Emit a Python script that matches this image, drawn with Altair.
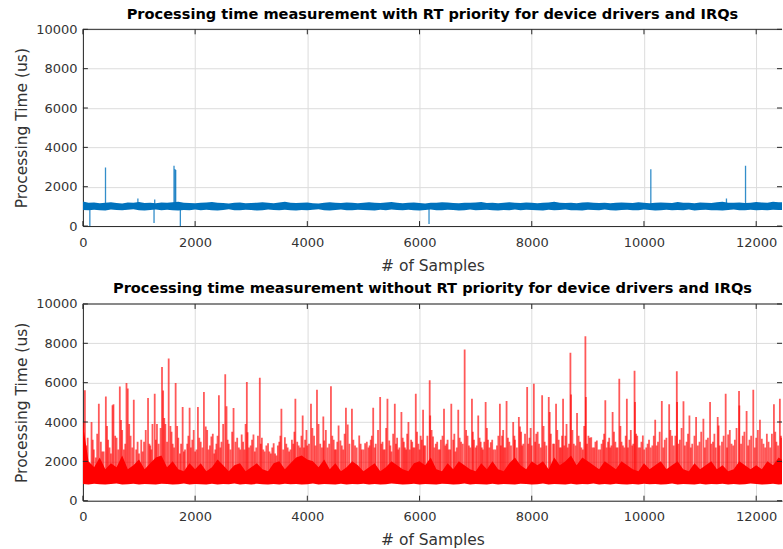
import altair as alt
import pandas as pd

X_MAX = 12460
STEP = 100
x_tick_values = [0, 2000, 4000, 6000, 8000, 10000, 12000]
y_tick_values = [0, 2000, 4000, 6000, 8000, 10000]

top_title = "Processing time measurement with RT priority for device drivers and IRQs"
bottom_title = "Processing time measurement without RT priority for device drivers and IRQs"

# ---- top panel (with RT priority): dense band every 100 samples ----
top_hi = [1250, 1180, 1200, 1160, 1190, 1210, 1170, 1150, 1200, 1180,
          1220, 1170, 1190, 1160, 1200, 1180, 1210, 1230, 1190, 1170,
          1160, 1180, 1200, 1220, 1190, 1170, 1150, 1180, 1200, 1160,
          1170, 1190, 1210, 1180, 1160, 1200, 1230, 1190, 1170, 1180,
          1200, 1160, 1150, 1180, 1210, 1190, 1170, 1200, 1180, 1160,
          1190, 1210, 1180, 1170, 1200, 1220, 1190, 1160, 1180, 1200,
          1170, 1150, 1190, 1180, 1210, 1200, 1170, 1160, 1190, 1180,
          1200, 1220, 1170, 1180, 1160, 1190, 1210, 1180, 1170, 1200,
          1190, 1160, 1180, 1200, 1230, 1190, 1170, 1180, 1160, 1200,
          1210, 1180, 1170, 1190, 1160, 1180, 1200, 1190, 1170, 1210,
          1180, 1160, 1190, 1200, 1180, 1170, 1220, 1190, 1180, 1160,
          1200, 1190, 1170, 1210, 1230, 1180, 1190, 1200, 1170, 1180,
          1220, 1200, 1190, 1240, 1210, 1200]
top_lo = [820, 800, 830, 810, 790, 840, 820, 800, 830, 850,
          810, 790, 820, 840, 800, 830, 810, 790, 820, 800,
          840, 810, 830, 800, 790, 820, 850, 810, 800, 830,
          820, 790, 810, 840, 820, 800, 830, 810, 790, 820,
          800, 830, 850, 810, 790, 820, 840, 800, 810, 830,
          820, 800, 790, 830, 810, 840, 820, 800, 830, 810,
          790, 820, 840, 810, 800, 830, 820, 790, 810, 840,
          800, 820, 830, 810, 790, 820, 800, 840, 810, 830,
          820, 800, 790, 830, 810, 820, 840, 800, 810, 790,
          830, 820, 800, 840, 810, 790, 820, 830, 800, 810,
          840, 820, 790, 810, 830, 800, 820, 810, 840, 790,
          820, 830, 800, 810, 790, 820, 840, 810, 800, 830,
          810, 820, 800, 830, 820, 810]
top_spike_samples = [124, 403, 980, 1268, 1280, 1624, 1640, 1654, 1737,
                     6169, 10122, 11470, 11810]
top_spike_values = [0, 2980, 1400, 150, 1350, 3060, 2900, 2850, 0,
                    100, 2890, 1400, 3060]
TOP_BASE = 1000

# ---- bottom panel (without RT priority) ----
bot_hi = [3900, 2000, 1700, 2200, 1600, 1900, 1700, 2300, 1600, 1800, 2100,
          1600, 1900, 2200, 2300, 1700, 2000, 1600, 1500, 1900, 1600,
          1900, 1500, 1700, 2100, 1800, 1500, 1800, 1900, 1500, 1700,
          1900, 1600, 1500, 1900, 2000, 1600, 1900, 2200, 2300, 2100,
          2000, 1700, 2100, 1600, 1900, 1500, 1700, 2000, 1800, 1500,
          1700, 1900, 1500, 1700, 2000, 1800, 1600, 1500, 1900, 2000,
          1800, 2200, 1600, 1500, 1900, 1600, 2000, 1800, 1600, 1500,
          1900, 1600, 2000, 1600, 1500, 1900, 2200, 1800, 1600, 2000,
          1800, 2000, 1600, 2200, 1800, 2000, 2300, 1800, 2200, 2000,
          1800, 1600, 2000, 1800, 1600, 2000, 1800, 1600, 1500, 1900,
          1600, 1800, 2000, 1600, 1800, 2000, 1600, 1500, 1900, 1600,
          1800, 2000, 1600, 1800, 1500, 1600, 2000, 1800, 1600, 1800,
          1600, 2000, 1800, 2200, 2000]
bot_lo = [850, 830, 860, 840, 820, 850, 870, 830, 840, 860,
          820, 850, 840, 830, 860, 850, 820, 840, 870, 830,
          850, 840, 820, 860, 830, 850, 840, 870, 820, 850,
          830, 860, 840, 820, 850, 830, 860, 840, 850, 820,
          840, 870, 830, 850, 840, 820, 860, 830, 850, 840,
          860, 820, 850, 830, 840, 870, 850, 820, 840, 860,
          830, 850, 840, 820, 860, 850, 830, 840, 870, 820,
          850, 840, 830, 860, 820, 850, 840, 830, 860, 850,
          820, 840, 870, 830, 850, 840, 820, 860, 830, 850,
          840, 870, 820, 850, 830, 860, 840, 820, 850, 830,
          860, 840, 850, 820, 840, 870, 830, 850, 840, 820,
          860, 830, 850, 840, 860, 820, 850, 830, 840, 870,
          850, 820, 840, 860, 830, 850]
bot_spike_samples = [
    10, 36, 60, 154, 175, 230, 284, 320, 370, 409, 450, 500, 528, 545, 600,
    658, 700, 730, 777, 800, 850, 907, 950, 1000, 1040, 1090, 1161, 1200,
    1240, 1280, 1320, 1350, 1410, 1430, 1470, 1529, 1560, 1600, 1653, 1700,
    1730, 1778, 1820, 1860, 1902, 1950, 2000, 2050,
    2100, 2157, 2190, 2240, 2290, 2340, 2380, 2424, 2470, 2537, 2560, 2600,
    2685, 2720, 2780, 2830, 2880, 2922, 2935, 2990, 3040, 3090, 3153, 3190,
    3240, 3300, 3350, 3400, 3450, 3500, 3538, 3600, 3650, 3700, 3750, 3787,
    3820, 3870, 3917, 3960, 4000, 4065,
    4120, 4172, 4230, 4285, 4300, 4360, 4421, 4470, 4510, 4557, 4590, 4640,
    4688, 4720, 4795, 4850, 4925, 4970, 5030, 5090, 5130, 5174, 5220, 5298,
    5340, 5380, 5428, 5460, 5500, 5559, 5600, 5640, 5677, 5720, 5760, 5802,
    5850, 5890, 5933, 5980, 6020, 6063, 6100,
    6181, 6190, 6240, 6290, 6340, 6380, 6436, 6480, 6520, 6566, 6600, 6640,
    6690, 6740, 6804, 6830, 6880, 6934, 6970, 7000, 7046, 7090, 7130, 7178,
    7220, 7270, 7320, 7380, 7432, 7470, 7510, 7551, 7600, 7669, 7700, 7770,
    7790, 7850, 7918, 7960, 8000, 8037, 8080, 8130, 8185,
    8230, 8303, 8320, 8380, 8433, 8480, 8520, 8558, 8600, 8640, 8689, 8700,
    8750, 8807, 8860, 8910, 8956, 8965, 9010, 9060, 9110, 9160, 9220, 9270,
    9311, 9360, 9400, 9441, 9490, 9530, 9560, 9600, 9650, 9695, 9740, 9790,
    9832, 9840, 9880, 9930, 9980, 10040, 10090, 10150, 10200,
    10250, 10318, 10370, 10449, 10500, 10585, 10590, 10640, 10704, 10760,
    10810, 10860, 10929, 10990, 11059, 11110, 11178, 11230, 11280, 11314,
    11330, 11390, 11456, 11500, 11560, 11620, 11694, 11700, 11760, 11829,
    11880, 11948, 12000, 12067, 12100, 12160, 12220, 12280, 12316, 12360,
    12422, 12450]
bot_spike_values = [
    4000, 5610, 2800, 4000, 3100, 2200, 4930, 3000, 2500, 5300, 3100, 2400,
    4850, 4900, 3200, 5810, 3600, 2600, 5980, 5700, 3300, 5130, 2600, 2400,
    3100, 3000, 5220, 2800, 3900, 5440, 3900, 2900, 6800, 5600, 3900, 7225,
    3800, 2900, 5980, 3200, 2400, 4760, 2600, 2900, 4730, 3100, 2500, 4760,
    3000, 5525, 3770, 2600, 3260, 2400, 2900, 5355, 3000, 6430, 4800, 2900,
    4710, 3000, 2700, 3370, 2600, 6035, 3485, 2800, 3370, 2700, 6256, 3200,
    2500, 2925, 2400, 2925, 2300, 3000, 4675, 3230, 2700, 2600, 2900, 5185,
    3000, 2700, 4335, 3100, 2800, 4930,
    3300, 5645, 2900, 4280, 3060, 2700, 5815, 3100, 2600, 3825, 3060, 2600,
    4730, 3875, 4675, 2800, 3315, 2600, 2925, 2700, 3100, 4730, 2900, 5270,
    3000, 2600, 5185, 3060, 2500, 4930, 3200, 2700, 4505, 3000, 2600, 4000,
    3100, 2700, 5440, 2900, 3300, 4620, 2800,
    6120, 4335, 3265, 2890, 2600, 3100, 4675, 2900, 2600, 4930, 3100, 2500,
    4620, 3000, 7685, 3600, 2800, 5185, 3100, 2700, 4335, 3000, 2600, 5015,
    3100, 2975, 2600, 2800, 4930, 3300, 2700, 5065, 3000, 4000, 3100, 4250,
    3775, 2900, 5780, 3200, 2800, 5950, 3400, 2900, 5355,
    3000, 5270, 4505, 2900, 4930, 3100, 2700, 5185, 3300, 2700, 7515, 5400,
    2900, 4455, 3000, 2600, 8365, 5270, 3300, 3230, 2700, 3060, 2600, 3100,
    5100, 3000, 2700, 4505, 3000, 2700, 6205, 3000, 2700, 5185, 3100, 2800,
    6600, 5015, 3300, 2700, 3315, 2700, 3095, 2800, 4115,
    3000, 5065, 3100, 4900, 3300, 6580, 5015, 3100, 5050, 3000,
    4335, 2900, 4250, 3000, 4165, 3100, 5015, 3000, 2700, 4250,
    3825, 3000, 5440, 3365, 2900, 3100, 5575, 4845, 3300, 4555,
    3100, 5645, 3200, 4115, 3145, 2700, 3000, 3400, 4900, 3000,
    5185, 3200]
# medium spikes between the tall ones: (sample, value)
bot_mid_spikes = [
    (85, 3200), (195, 2600), (255, 3400), (345, 2500), (430, 3800), (475, 2700),
    (575, 3300), (630, 2600), (680, 4100), (755, 2900), (825, 3900), (880, 2700),
    (975, 3000), (1065, 2500), (1120, 3600), (1185, 2900), (1220, 2600),
    (1300, 3100), (1385, 3700), (1450, 4200), (1500, 3000), (1580, 3500),
    (1625, 2700), (1680, 3800), (1750, 2900), (1800, 2500), (1880, 3300),
    (1925, 2700), (1975, 3600), (2025, 2600), (2075, 3200), (2130, 2700),
    (2215, 3600), (2265, 2800), (2315, 3400), (2360, 2600), (2400, 3300),
    (2450, 2700), (2500, 3900), (2580, 3100), (2630, 2600), (2660, 3500),
    (2750, 3200), (2805, 2600), (2855, 3000), (2900, 3900), (2960, 2700),
    (3015, 3100), (3065, 2500), (3120, 3300), (3170, 2900), (3215, 2600),
    (3270, 2800), (3325, 2500), (3375, 2700), (3425, 2400), (3475, 2800),
    (3520, 3300), (3570, 2600), (3625, 2900), (3675, 2500), (3725, 3100),
    (3770, 3500), (3845, 2800), (3895, 3300), (3940, 2700), (3985, 3600),
    (4030, 2900), (4090, 3700), (4145, 2800), (4200, 3900), (4260, 2700),
    (4330, 3600), (4390, 2900), (4445, 3300), (4490, 2600), (4535, 3000),
    (4615, 2800), (4665, 3400), (4750, 2900), (4820, 3100), (4880, 2700),
    (4950, 2900), (5000, 2600), (5060, 3000), (5110, 2800), (5150, 3300),
    (5200, 2700), (5260, 3600), (5320, 2900), (5360, 2600), (5405, 3700),
    (5480, 2800), (5530, 3400), (5580, 2900), (5620, 2600), (5700, 3200),
    (5740, 2700), (5780, 3400), (5825, 2600), (5870, 3000), (5910, 2700),
    (5955, 3500), (6000, 2600), (6040, 3100), (6080, 2800), (6140, 3300),
    (6215, 3600), (6265, 2700), (6315, 3000), (6360, 2600), (6410, 3300),
    (6460, 2800), (6500, 3100), (6545, 2600), (6620, 3400), (6665, 2700),
    (6715, 3200), (6770, 2900), (6855, 3300), (6905, 2700), (6950, 3500),
    (7020, 2800), (7070, 3200), (7110, 2700), (7155, 3000), (7200, 3700),
    (7245, 2700), (7295, 3100), (7350, 2600), (7405, 3300), (7450, 2800),
    (7490, 3600), (7530, 2700), (7575, 3200), (7630, 2800), (7690, 3300),
    (7735, 2700), (7810, 3500), (7830, 2800), (7880, 3400), (7940, 2900),
    (7980, 3700), (8060, 3000), (8105, 3500), (8160, 2700), (8210, 3800),
    (8260, 2800), (8340, 3400), (8400, 2900), (8455, 3600), (8500, 2700),
    (8540, 3300), (8580, 2800), (8620, 3900), (8665, 2900), (8725, 3600),
    (8780, 2800), (8835, 3300), (8885, 2700), (8935, 3800), (8985, 2900),
    (9035, 3200), (9085, 2700), (9135, 3000), (9190, 2600), (9245, 2900),
    (9290, 3400), (9335, 2700), (9380, 3200), (9420, 2800), (9465, 3500),
    (9510, 2700), (9580, 3800), (9625, 2800), (9675, 3300), (9715, 2700),
    (9765, 3600), (9810, 2900), (9860, 3400), (9905, 2700), (9955, 3000),
    (10005, 2600), (10065, 2900), (10120, 2700), (10175, 3300), (10225, 2800),
    (10280, 3500), (10345, 2700), (10400, 3200), (10470, 3600), (10530, 2800),
    (10560, 3300), (10615, 2900), (10670, 3700), (10730, 2800), (10785, 3400),
    (10835, 2700), (10900, 3300), (10960, 2800), (11020, 3500), (11085, 2700),
    (11140, 3200), (11200, 2900), (11255, 3400), (11350, 2800), (11420, 3300),
    (11480, 2700), (11530, 3600), (11590, 2800), (11650, 3700), (11730, 2900),
    (11790, 3500), (11855, 2800), (11910, 3300), (11975, 2700), (12030, 3600),
    (12130, 2900), (12190, 3400), (12250, 2700), (12340, 3500), (12390, 2800),
    (12440, 3300)]
BOT_BASE = 900

W, H = 700, 197
FONT = "DejaVu Sans"
AXIS_COLOR = "#262626"
TEXT_COLOR = "#333333"

xscale = alt.Scale(domain=[0, X_MAX], nice=False, zero=False)
yscale = alt.Scale(domain=[0, 10000], nice=False)
x_axis = alt.Axis(values=x_tick_values, ticks=False, grid=True, format="d",
                  labelFlush=False, labelOverlap=False, labelPadding=10, titlePadding=9,
                  title="# of Samples")
y_axis = alt.Axis(values=y_tick_values, ticks=False, grid=True, format="d",
                  labelFlush=False, labelOverlap=False, labelPadding=6, titlePadding=6,
                  title="Processing Time (us)")


def X(field="s"):
    return alt.X(f"{field}:Q", scale=xscale, axis=x_axis)


def Y(field="v"):
    return alt.Y(f"{field}:Q", scale=yscale, axis=y_axis)


def panel(title, hi, lo, spike_s, spike_v, base, color, spike_opacity, spike_width):
    band_df = pd.DataFrame({
        "s": [i * STEP for i in range(len(hi))],
        "v": hi,
        "v2": lo,
    })
    spike_df = pd.DataFrame({"s": spike_s, "v": spike_v, "base": [base] * len(spike_s)})
    xt_df = pd.DataFrame({"s": x_tick_values})
    yt_df = pd.DataFrame({"v": y_tick_values})
    one = pd.DataFrame({"a": [0]})

    band = alt.Chart(band_df).mark_area(color=color, clip=True).encode(
        x=X(), y=Y(), y2="v2:Q")
    spikes = alt.Chart(spike_df).mark_rule(color=color, strokeWidth=spike_width,
                                           opacity=spike_opacity, clip=True).encode(
        x=X(), y=Y(), y2="base:Q")
    top_border = alt.Chart(one).mark_rule(color=AXIS_COLOR, strokeWidth=1).encode(
        x=alt.value(0), x2=alt.value(W), y=alt.value(0))
    xt_bottom = alt.Chart(xt_df).mark_rule(color=AXIS_COLOR).encode(
        x=X(), y=alt.value(H), y2=alt.value(H - 5))
    xt_top = alt.Chart(xt_df).mark_rule(color=AXIS_COLOR).encode(
        x=X(), y=alt.value(0), y2=alt.value(5))
    yt_left = alt.Chart(yt_df).mark_rule(color=AXIS_COLOR).encode(
        y=Y(), x=alt.value(0), x2=alt.value(5))
    yt_right = alt.Chart(yt_df).mark_rule(color=AXIS_COLOR).encode(
        y=Y(), x=alt.value(W), x2=alt.value(W - 5))

    return alt.layer(band, spikes, top_border, xt_bottom, xt_top, yt_left, yt_right).properties(
        width=W, height=H,
        title=alt.TitleParams(text=title, font=FONT, fontSize=14.6, fontWeight="bold",
                              color="#000000", anchor="middle", frame="group", offset=2),
    )


all_bot_s = bot_spike_samples + [p[0] for p in bot_mid_spikes]
all_bot_v = bot_spike_values + [p[1] for p in bot_mid_spikes]

top = panel(top_title, top_hi, top_lo, top_spike_samples, top_spike_values,
            TOP_BASE, "#0072BD", 0.8, 1.3)
bottom = panel(bottom_title, bot_hi, bot_lo, all_bot_s, all_bot_v,
               BOT_BASE, "#FF0000", 0.65, 1.8)

chart = alt.vconcat(top, bottom, spacing=7).properties(
    padding={"left": 14, "top": 6, "right": 0, "bottom": 0},
    background="white",
).configure_view(stroke=None).configure_axis(
    labelFont=FONT, labelFontSize=13, labelColor=TEXT_COLOR,
    titleFont=FONT, titleFontSize=15.5, titleFontWeight="normal", titleColor=TEXT_COLOR,
    domainColor=AXIS_COLOR, domainWidth=1, gridColor="#dcdcdc", gridWidth=1,
)

chart.save("out.html", embed_options={"renderer": "svg", "actions": False})
